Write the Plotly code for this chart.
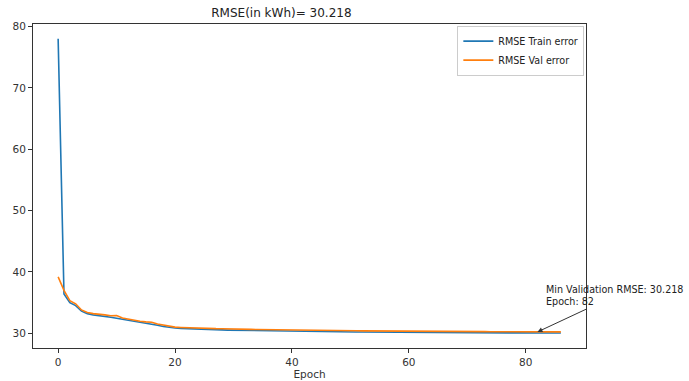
"""Training curve: RMSE train vs validation per epoch."""

import plotly.graph_objects as go

epochs = list(range(87))

train_rmse = [
    78.0, 36.4, 35.0, 34.5, 33.6, 33.2, 33.0, 32.9, 32.75, 32.6,
    32.45, 32.3, 32.1, 31.95, 31.8, 31.65, 31.5, 31.3, 31.1, 30.95,
    30.85, 30.8, 30.75, 30.7, 30.66, 30.62, 30.6, 30.57, 30.55, 30.52,
    30.5, 30.48, 30.46, 30.44, 30.42, 30.4, 30.38, 30.36, 30.35, 30.33,
    30.32, 30.3, 30.29, 30.28, 30.27, 30.26, 30.25, 30.24, 30.23, 30.22,
    30.21, 30.2, 30.2, 30.19, 30.18, 30.18, 30.17, 30.16, 30.16, 30.15,
    30.15, 30.14, 30.14, 30.13, 30.13, 30.12, 30.12, 30.11, 30.11, 30.1,
    30.1, 30.09, 30.09, 30.09, 30.08, 30.08, 30.08, 30.07, 30.07, 30.07,
    30.06, 30.06, 30.06, 30.05, 30.05, 30.05, 30.05,
]

val_rmse = [
    39.2, 37.0, 35.3, 34.8, 33.8, 33.4, 33.2, 33.15, 33.0, 32.85,
    32.9, 32.5, 32.3, 32.1, 31.95, 31.85, 31.8, 31.5, 31.3, 31.1,
    31.0, 30.95, 30.9, 30.85, 30.85, 30.8, 30.8, 30.75, 30.74, 30.7,
    30.72, 30.68, 30.66, 30.63, 30.62, 30.6, 30.58, 30.57, 30.55, 30.54,
    30.52, 30.51, 30.5, 30.49, 30.47, 30.46, 30.45, 30.44, 30.43, 30.42,
    30.41, 30.4, 30.39, 30.39, 30.38, 30.37, 30.36, 30.36, 30.35, 30.34,
    30.34, 30.33, 30.32, 30.32, 30.31, 30.31, 30.3, 30.3, 30.29, 30.29,
    30.28, 30.28, 30.27, 30.27, 30.26, 30.26, 30.25, 30.25, 30.24, 30.24,
    30.23, 30.23, 30.218, 30.23, 30.24, 30.22, 30.23,
]

best_epoch = 82
best_rmse = 30.218

FONT = "DejaVu Sans"
AXIS_COLOR = "#333333"

fig = go.Figure()
fig.add_trace(
    go.Scatter(
        x=epochs, y=train_rmse, mode="lines", name="RMSE Train error",
        line=dict(color="#1f77b4", width=1.6),
    )
)
fig.add_trace(
    go.Scatter(
        x=epochs, y=val_rmse, mode="lines", name="RMSE Val error",
        line=dict(color="#ff7f0e", width=1.6),
    )
)

# text box sits up and to the right of the minimum, like matplotlib's annotate
fig.add_annotation(
    x=best_epoch, y=best_rmse,
    text=f"Min Validation RMSE: {best_rmse:.3f}<br>Epoch: {best_epoch}",
    align="left",
    showarrow=True, arrowhead=2, arrowsize=1, arrowwidth=1, arrowcolor="#333333",
    ax=77, ay=-36,
    font=dict(family=FONT, size=9.6, color="#222222"),
)

axis_common = dict(
    showline=True, linecolor=AXIS_COLOR, linewidth=1, mirror=True,
    showgrid=False, zeroline=False, automargin=False,
    ticks="outside", ticklen=4, tickcolor=AXIS_COLOR,
    tickfont=dict(family=FONT, size=10.5, color="#333333"),
)

fig.update_xaxes(
    range=[-4.3, 90.3], tickvals=[0, 20, 40, 60, 80],
    title=dict(text="Epoch", font=dict(family=FONT, size=10.5, color="#333333"), standoff=2),
    **axis_common,
)
fig.update_yaxes(
    range=[27.6, 80.4], tickvals=[30, 40, 50, 60, 70, 80],
    **axis_common,
)

fig.update_layout(
    width=689, height=381,
    margin=dict(l=33, r=103, t=24, b=33),
    title=dict(
        text=f"RMSE(in kWh)= {best_rmse:.3f}",
        x=309.5 / 689, xanchor="center", xref="paper",
        y=1 - 13 / 381, yanchor="middle", yref="container",
        font=dict(family=FONT, size=12, color="#222222"),
    ),
    paper_bgcolor="white", plot_bgcolor="white",
    legend=dict(
        x=0.997, y=0.995, xanchor="right", yanchor="top",
        bordercolor="#cccccc", borderwidth=1, bgcolor="rgba(255,255,255,0.8)",
        font=dict(family=FONT, size=9.6, color="#222222"),
        itemwidth=30, tracegroupgap=0,
    ),
    showlegend=True,
)

# drop the page's default body margin so the figure fills the window exactly
fig.write_html(
    "out.html",
    config={"displayModeBar": False},
    post_script="document.body.style.margin='0';",
)
